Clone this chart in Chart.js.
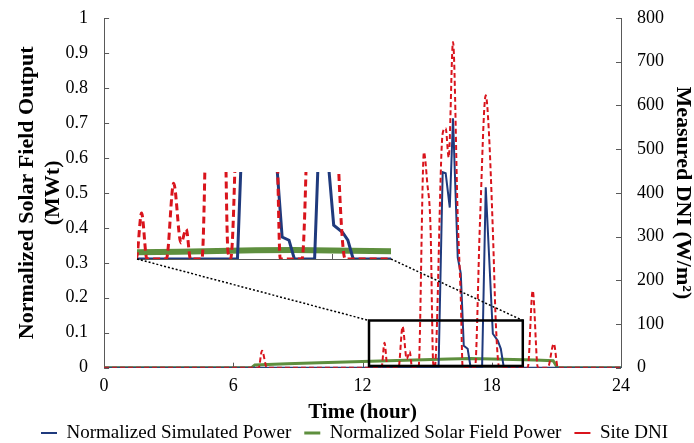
<!DOCTYPE html>
<html>
<head>
<meta charset="utf-8">
<script src="https://cdn.jsdelivr.net/npm/chart.js@4.4.1/dist/chart.umd.min.js"></script>
<style>
  body { margin: 0; background: #fff; }
  #wrap { position: relative; width: 694px; height: 443px; }
  #wrap canvas { position: absolute; left: 0; top: 0; }
</style>
</head>
<body>
<div id="wrap">
  <canvas id="mainChart" width="694" height="443"></canvas>
  <canvas id="zoomChart" width="694" height="443"></canvas>
</div>
<script>
// site DNI (W/m2), right axis
const dniHours  = [0, 7.18, 7.33, 7.56, 12.88, 13.02, 13.16, 13.67, 13.86, 14.05, 14.19, 14.3, 14.6, 14.85, 15.0, 15.16, 15.28, 15.35, 15.72, 15.86, 16.0, 16.2, 16.42, 16.56, 16.65, 17.22, 17.45, 17.72, 17.86, 18.05, 18.19, 18.35, 19.67, 19.9, 20.14, 20.6, 20.88, 21.07, 24];
const dniValues = [0, 0, 39, 0, 0, 57, 0, 0, 94, 20, 37, 0, 0, 493, 425, 314, 10, 0, 536, 548, 481, 745, 344, 160, 0, 0, 330, 623, 545, 314, 100, 0, 0, 176, 0, 0, 55, 0, 0];

// normalized simulated power, left axis
const simHours  = [0, 15.53, 15.72, 15.86, 16.05, 16.2, 16.42, 16.56, 16.7, 16.88, 17.02, 17.55, 17.72, 18.05, 18.28, 18.42, 18.56, 24];
const simValues = [0, 0, 0.559, 0.556, 0.458, 0.713, 0.315, 0.27, 0.063, 0.054, 0, 0, 0.516, 0.097, 0.077, 0.054, 0, 0];

// normalized solar field power, left axis
const fieldHours  = [0, 6.85, 7.0, 8.5, 10, 12, 14, 16, 17, 18.5, 20, 20.85, 21.05, 24];
const fieldValues = [0, 0, 0.008, 0.011, 0.014, 0.018, 0.021, 0.025, 0.026, 0.024, 0.022, 0.02, 0, 0];

const hourTicks = [0, 6, 12, 18, 24];
const seriesNames = ['Normalized Simulated Power', 'Normalized Solar Field Power', 'Site DNI'];

// zoomed region (box on main chart) and the magnified inset
const boxHours = [12.3, 19.44];
const boxTop = 0.135;
const insetHours = [12.9, 19.55];
const insetPowerMax = 0.25;
const insetDniMax = 108;

const blue = '#1f3a7d';
const green = '#5e8f3e';
const red = '#d9141c';
const axisColor = '#595959';

Chart.defaults.font.family = 'Liberation Serif';
Chart.defaults.color = '#000';

const pts = (xs, ys) => xs.map((h, i) => ({x: h, y: ys[i]}));
// keep the tick label padding from pushing the plot area down
const noLabelPad = s => { s.paddingTop = 0; s.paddingBottom = 0; };

const innerTicks = {
  id: 'innerTicks',
  beforeDatasetsDraw(chart) {
    const {ctx, chartArea: a} = chart;
    ctx.save();
    ctx.strokeStyle = axisColor;
    ctx.lineWidth = 1;
    ctx.beginPath();
    Object.values(chart.scales).forEach(s => {
      if (!s.options.display) return;
      s.ticks.forEach(t => {
        const p = Math.round(s.getPixelForValue(t.value)) + 0.5;
        if (s.axis === 'x') { ctx.moveTo(p, a.bottom); ctx.lineTo(p, a.bottom - 5); }
        else if (s.position === 'left') { ctx.moveTo(a.left, p); ctx.lineTo(a.left + 5, p); }
        else { ctx.moveTo(a.right, p); ctx.lineTo(a.right - 5, p); }
      });
    });
    ctx.stroke();
    ctx.restore();
  }
};

const zoomBox = {
  id: 'zoomBox',
  afterDatasetsDraw(chart) {
    const {ctx, scales: {x, y}} = chart;
    const l = x.getPixelForValue(boxHours[0]), r = x.getPixelForValue(boxHours[1]);
    const t = y.getPixelForValue(boxTop), b = y.getPixelForValue(0.005);
    ctx.save();
    ctx.strokeStyle = '#000';
    ctx.lineWidth = 2.5;
    ctx.strokeRect(l, t, r - l, b - t);
    ctx.restore();
  }
};

const mainChart = new Chart(document.getElementById('mainChart'), {
  type: 'line',
  data: {
    datasets: [
      {label: seriesNames[0], data: pts(simHours, simValues), yAxisID: 'y', borderColor: blue, backgroundColor: blue, borderWidth: 2, order: 1},
      {label: seriesNames[1], data: pts(fieldHours, fieldValues), yAxisID: 'y', borderColor: green, backgroundColor: green, borderWidth: 3, order: 2},
      {label: seriesNames[2], data: pts(dniHours, dniValues), yAxisID: 'y1', borderColor: red, backgroundColor: red, borderWidth: 2, borderDash: [5, 3], cubicInterpolationMode: 'monotone', order: 0}
    ]
  },
  options: {
    responsive: false,
    animation: false,
    devicePixelRatio: 1,
    layout: {padding: {left: 15, right: 0, top: 18, bottom: -9.5}},
    elements: {point: {radius: 0}, line: {tension: 0}},
    plugins: {
      tooltip: {enabled: false},
      legend: {
        position: 'bottom',
        labels: {
          usePointStyle: true,
          pointStyle: 'line',
          pointStyleWidth: 16,
          padding: 13,
          font: {size: 19},
          color: '#000',
          sort: (a, b) => a.datasetIndex - b.datasetIndex
        }
      }
    },
    scales: {
      x: {
        type: 'linear', min: 0, max: 24,
        afterBuildTicks: s => { s.ticks = hourTicks.map(v => ({value: v})); },
        grid: {display: false, drawTicks: false},
        border: {color: axisColor},
        ticks: {font: {size: 18}, padding: 8, color: '#000'},
        title: {display: true, text: 'Time (hour)', font: {size: 21, weight: 'bold', lineHeight: 1.2}, padding: {top: -5, bottom: -15}, color: '#000'}
      },
      y: {
        position: 'left', min: 0, max: 1,
        afterFit: noLabelPad,
        ticks: {stepSize: 0.1, font: {size: 18}, padding: 16, color: '#000', callback: v => String(+v.toFixed(1))},
        grid: {display: false, drawTicks: false},
        border: {color: axisColor},
        title: {display: true, text: ['Normalized Solar Field Output', '(MWt)'], font: {size: 22, weight: 'bold', lineHeight: 1.15}, padding: {top: 0, bottom: -16}, color: '#000'}
      },
      y1: {
        position: 'right', min: 0, max: 800,
        afterFit: noLabelPad,
        ticks: {stepSize: 100, font: {size: 18}, padding: 16, color: '#000'},
        grid: {display: false, drawTicks: false},
        border: {color: axisColor},
        title: {display: true, text: 'Measured DNI (W/m\u00b2)', font: {size: 22, weight: 'bold', lineHeight: 1.0}, padding: {top: 0, bottom: -8}, color: '#000'}
      }
    }
  },
  plugins: [innerTicks, zoomBox]
});

const insetBack = {
  id: 'insetBack',
  beforeDraw(chart) {
    const {ctx, chartArea: a} = chart;
    ctx.save();
    ctx.fillStyle = '#fff';
    ctx.fillRect(a.left, a.top, a.right - a.left, a.bottom - a.top);
    ctx.restore();
  }
};

const connectors = {
  id: 'connectors',
  afterDraw(chart) {
    const {ctx, chartArea: a} = chart;
    const mx = mainChart.scales.x, my = mainChart.scales.y;
    ctx.save();
    ctx.strokeStyle = '#000';
    ctx.lineWidth = 1.5;
    ctx.setLineDash([2, 2]);
    ctx.beginPath();
    ctx.moveTo(a.left, a.bottom);
    ctx.lineTo(mx.getPixelForValue(boxHours[0]), my.getPixelForValue(boxTop));
    ctx.moveTo(a.right, a.bottom);
    ctx.lineTo(mx.getPixelForValue(boxHours[1]), my.getPixelForValue(boxTop));
    ctx.stroke();
    ctx.restore();
  }
};

new Chart(document.getElementById('zoomChart'), {
  type: 'line',
  data: {
    datasets: [
      {data: pts(simHours, simValues), yAxisID: 'yz', borderColor: blue, borderWidth: 3, order: 1},
      {data: pts(fieldHours, fieldValues), yAxisID: 'yz', borderColor: green, borderWidth: 6, order: 2},
      {data: pts(dniHours, dniValues), yAxisID: 'yz1', borderColor: red, borderWidth: 3, borderDash: [7, 4], cubicInterpolationMode: 'monotone', order: 0}
    ]
  },
  options: {
    responsive: false,
    animation: false,
    devicePixelRatio: 1,
    layout: {padding: {left: 137, top: 172, right: 303, bottom: 184}},
    elements: {point: {radius: 0}, line: {tension: 0}},
    plugins: {legend: {display: false}, tooltip: {enabled: false}},
    scales: {
      x: {
        type: 'linear', min: insetHours[0], max: insetHours[1],
        afterBuildTicks: s => { s.ticks = hourTicks.filter(v => v > insetHours[0] && v < insetHours[1]).map(v => ({value: v})); },
        ticks: {display: false},
        grid: {display: false, drawTicks: false},
        border: {color: axisColor}
      },
      yz: {position: 'left', min: 0, max: insetPowerMax, display: false},
      yz1: {position: 'right', min: 0, max: insetDniMax, display: false}
    }
  },
  plugins: [insetBack, innerTicks, connectors]
});
</script>
</body>
</html>
